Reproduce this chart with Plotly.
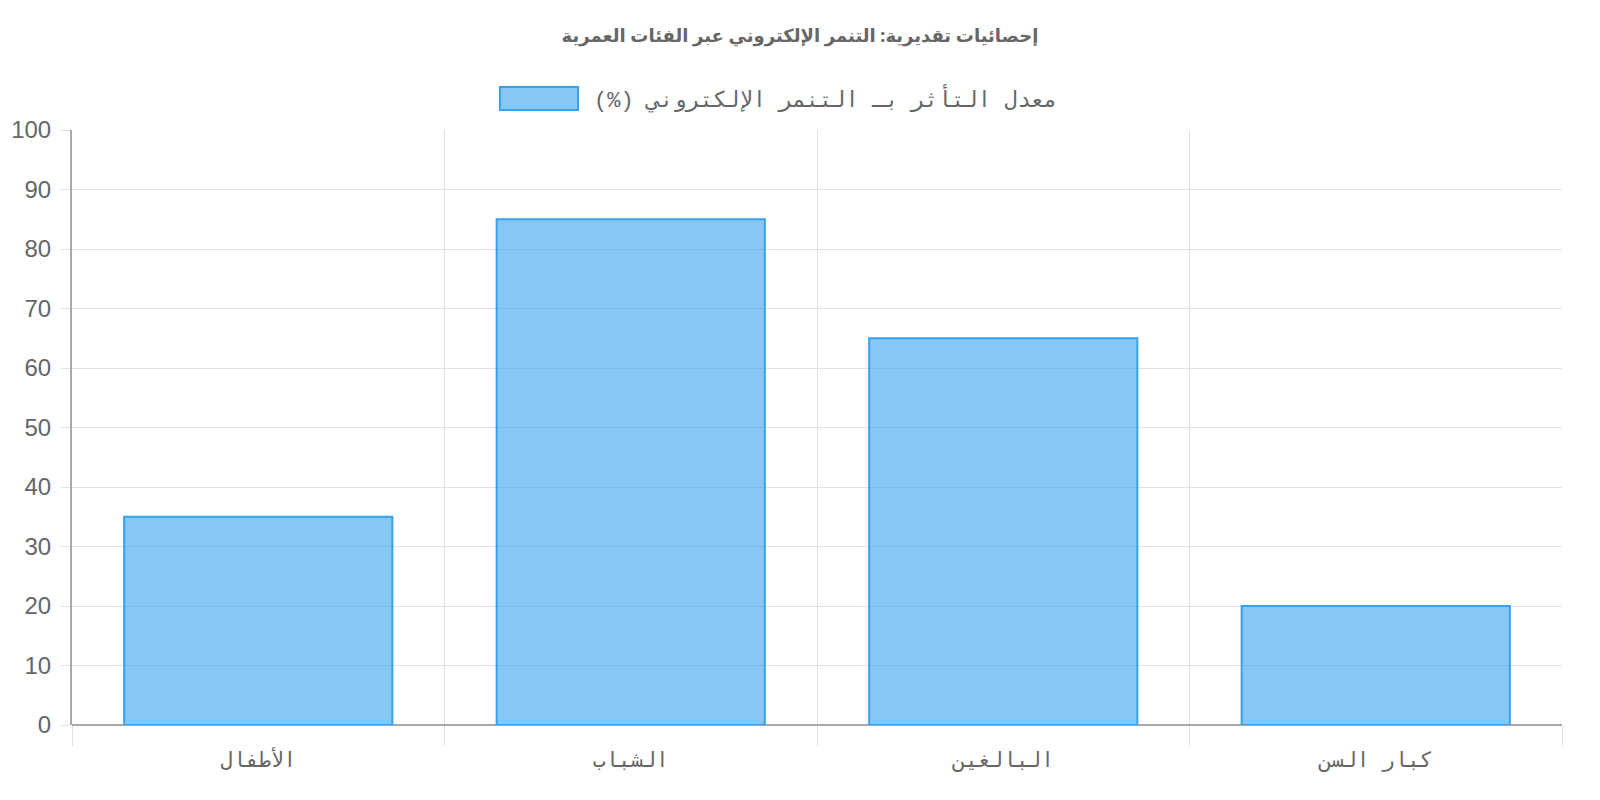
import plotly.graph_objects as go

# data
categories = ["الأطفال", "الشباب", "البالغين", "كبار السن"]
rates = [35, 85, 65, 20]
series_name = "معدل التأثر بـ التنمر الإلكتروني (%)"
title_text = "إحصائيات تقديرية: التنمر الإلكتروني عبر الفئات العمرية"
y_ticks = list(range(0, 101, 10))

fill = "rgba(54,162,235,0.6)"
edge = "rgb(54,162,235)"
grid = "#e1e1e1"
axis = "#a8a8a8"
mono = "Liberation Mono, DejaVu Sans Mono, monospace"

fig = go.Figure()
fig.add_trace(go.Bar(
    x=categories,
    y=rates,
    name=series_name,
    marker=dict(color=fill, line=dict(color=edge, width=2)),
    showlegend=False,
))

fig.update_layout(
    width=1600,
    height=800,
    margin=dict(l=72, r=38, t=130, b=75),
    paper_bgcolor="white",
    plot_bgcolor="white",
    bargap=0.28,
    font=dict(family="Liberation Sans, Arial", color="#666"),
    title=dict(
        text="<b>" + title_text + "</b>",
        x=0.5, xanchor="center", y=0.955, yanchor="middle",
        font=dict(family="Noto Sans, DejaVu Sans", size=18, color="#666"),
    ),
)

# legend drawn by hand so the swatch matches the wide box
fig.add_shape(type="rect", xref="paper", yref="paper",
              x0=0.2872, x1=0.3396, y0=1.0336, y1=1.0723,
              fillcolor=fill, line=dict(color=edge, width=2))
fig.add_annotation(text="\u202b" + series_name + "\u202c",
                   xref="paper", yref="paper",
                   x=0.349, y=1.052, xanchor="left", yanchor="middle",
                   showarrow=False,
                   font=dict(family=mono, size=22, color="#666"))

fig.update_xaxes(
    tickson="boundaries",
    ticks="outside", ticklen=20, tickcolor=grid,
    showgrid=True, gridcolor=grid, gridwidth=1,
    showline=False,
    ticklabelstandoff=20,
    tickfont=dict(family=mono, size=21, color="#666"),
)
fig.update_yaxes(
    range=[0, 100],
    tickvals=y_ticks,
    ticks="outside", ticklen=9, tickcolor=grid,
    showgrid=True, gridcolor=grid, gridwidth=1,
    showline=True, linecolor=axis, linewidth=2,
    zeroline=True, zerolinecolor=axis, zerolinewidth=2,
    ticklabelstandoff=5,
    tickfont=dict(size=24, color="#666"),
)

fig.write_html(
    "out.html",
    config={"displayModeBar": False},
    post_script="document.body.style.margin='0';"
                "document.body.style.overflow='hidden';"
                "document.documentElement.style.overflow='hidden';",
)
